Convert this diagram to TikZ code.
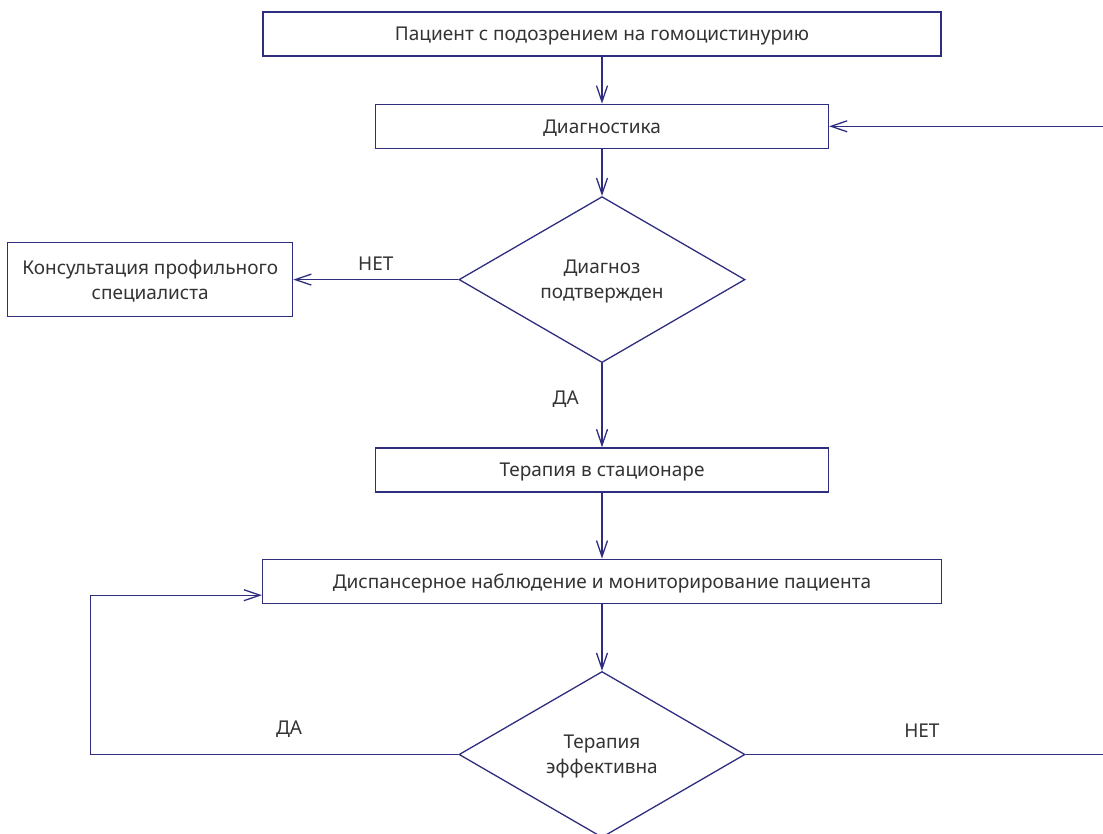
\documentclass[tikz,border=0pt]{standalone}
\usepackage{fontspec}
\setmainfont{Noto Sans}
\usepackage{xcolor}
\usetikzlibrary{arrows.meta,positioning,shapes.geometric}
\definecolor{navy}{HTML}{2E2D7F}
\definecolor{txt}{HTML}{333333}

\begin{document}
\begin{tikzpicture}[
  node distance=23.5pt and 82.5pt,
  box/.style={draw=navy, line width=0.65pt, align=center, minimum height=22pt, inner sep=2pt, text depth=0pt, font=\fontsize{9.5}{12.5}\selectfont, text=txt},
  decision/.style={diamond, draw=navy, line width=0.65pt, align=center, minimum width=143pt, minimum height=83pt, inner sep=0pt, text depth=0pt, font=\fontsize{9.5}{12.5}\selectfont, text=txt},
  lbl/.style={font=\fontsize{9.5}{12.5}\selectfont, text=txt},
  arrow/.style={-{Straight Barb[length=8pt,width=5.5pt]}, draw=navy, line width=0.65pt}
]
\useasboundingbox (0,0) rectangle (551.5pt,-417pt);
\clip (0,0) rectangle (551.5pt,-417pt);

\node[box, minimum width=339pt] (patient) at (301pt,-17pt) {Пациент с подозрением на гомоцистинурию};
\node[box, minimum width=226.5pt, below=of patient] (diag) {Диагностика};
\node[decision, below=of diag] (confirmed) {Диагноз\\подтвержден};
\node[box, minimum width=142.5pt, minimum height=37pt, left=of confirmed] (consult) {Консультация профильного\\специалиста};
\node[box, minimum width=226.5pt, below=42pt of confirmed] (therapy) {Терапия в стационаре};
\node[box, minimum width=339.5pt, below=33pt of therapy] (followup) {Диспансерное наблюдение и мониторирование пациента};
\node[decision, below=33.5pt of followup] (effective) {Терапия\\эффективна};

\draw[arrow] (patient) -- (diag);
\draw[arrow] (diag) -- (confirmed);
\draw[arrow] (confirmed) -- node[lbl, above=1pt] {НЕТ} (consult);
\draw[arrow] (confirmed) -- node[lbl, left=8pt, pos=0.43] {ДА} (therapy);
\draw[arrow] (therapy) -- (followup);
\draw[arrow] (followup) -- (effective);
\draw[arrow] (effective.west) -- node[lbl, above=5pt, pos=0.46] {ДА} ++(-184pt,0) |- ([yshift=-7pt]followup.west);
\draw[arrow] (effective.east) -- node[lbl, above=5pt, pos=0.47] {НЕТ} ++(187.5pt,0) |- (diag.east);
\end{tikzpicture}
\end{document}
